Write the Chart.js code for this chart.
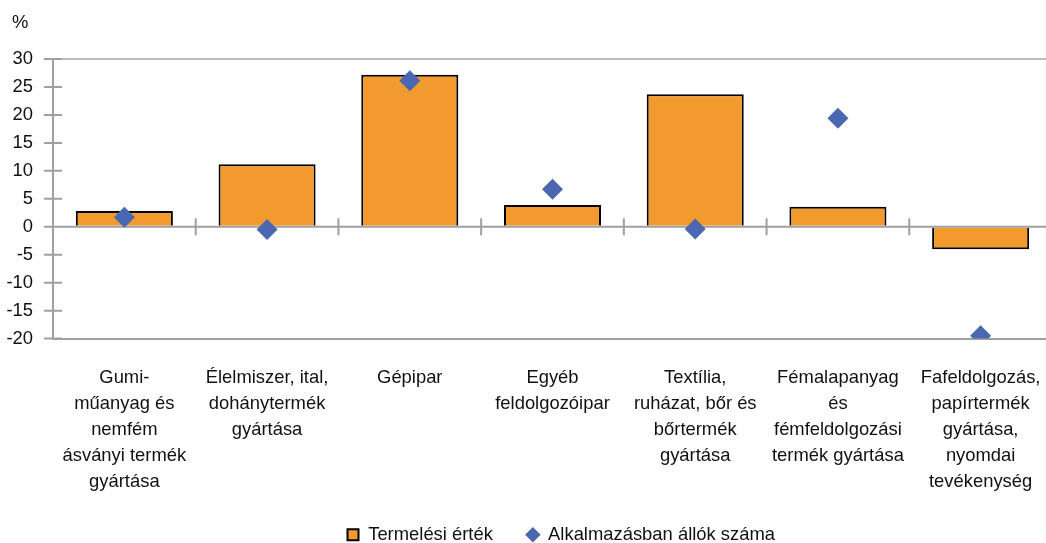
<!DOCTYPE html>
<html>
<head>
<meta charset="utf-8">
<script src="https://cdn.jsdelivr.net/npm/chart.js@4/dist/chart.umd.min.js"></script>
<style>
  html, body { margin: 0; padding: 0; background: #fff; overflow: hidden; }
  #wrap { width: 1046px; height: 543px; overflow: hidden; }
  canvas { display: block; }
</style>
</head>
<body>
<div id="wrap"><canvas id="c" width="1122" height="554"></canvas></div>
<script>
const categories = [
  ["Gumi-", "műanyag és", "nemfém", "ásványi termék", "gyártása"],
  ["Élelmiszer, ital,", "dohánytermék", "gyártása"],
  ["Gépipar"],
  ["Egyéb", "feldolgozóipar"],
  ["Textília,", "ruházat, bőr és", "bőrtermék", "gyártása"],
  ["Fémalapanyag", "és", "fémfeldolgozási", "termék gyártása"],
  ["Fafeldolgozás,", "papírtermék", "gyártása,", "nyomdai", "tevékenység"]
];
const productionValues = [2.8, 11.2, 27.2, 3.9, 23.7, 3.6, -4.0];
const employmentValues = [1.7, -0.5, 26.1, 6.7, -0.4, 19.4, -19.5];
const seriesNames = ["Termelési érték", "Alkalmazásban állók száma"];
const yTicks = { min: -20, max: 30, step: 5 };
const unitLabel = "%";

const ORANGE = "#F39A2E";
const BLUE = "#4A68B2";
const AXIS = "#A0A0A0";
const TEXT = "#111111";
const FONT = "'Liberation Sans', Arial, sans-serif";
const FS = 18.4;

Chart.defaults.font.family = FONT;
Chart.defaults.font.size = FS;
Chart.defaults.color = TEXT;

const axisMarks = {
  id: 'axisMarks',
  afterDatasetDraw(chart, args) {
    if (args.index !== 1) return;
    const { ctx, chartArea, scales: { x, y } } = chart;
    const y0 = y.getPixelForValue(0);
    ctx.save();
    ctx.strokeStyle = AXIS;
    ctx.lineWidth = 2;
    ctx.beginPath();
    ctx.moveTo(chartArea.left, y0);
    ctx.lineTo(chartArea.right, y0);
    for (let i = 1; i < categories.length; i++) {
      const bx = (x.getPixelForValue(i - 1) + x.getPixelForValue(i)) / 2;
      ctx.moveTo(bx, y0 - 8.5);
      ctx.lineTo(bx, y0 + 8.5);
    }
    y.ticks.forEach((t, i) => {
      const py = y.getPixelForTick(i);
      ctx.moveTo(chartArea.left - 9, py);
      ctx.lineTo(chartArea.left + 9, py);
    });
    ctx.stroke();
    ctx.restore();
  },
  afterDraw(chart) {
    const ctx = chart.ctx;
    ctx.save();
    ctx.fillStyle = TEXT;
    ctx.font = FS + "px " + FONT;
    ctx.textAlign = 'left';
    ctx.textBaseline = 'middle';
    ctx.fillText(unitLabel, 12, 23);
    ctx.restore();
  }
};

new Chart(document.getElementById('c'), {
  data: {
    labels: categories,
    datasets: [
      {
        type: 'line',
        label: seriesNames[1],
        data: employmentValues,
        showLine: false,
        borderColor: BLUE,
        backgroundColor: BLUE,
        borderWidth: 0,
        pointStyle: 'rectRot',
        pointRadius: 10.5,
        pointHoverRadius: 10.5,
        pointBackgroundColor: BLUE,
        pointBorderWidth: 0
      },
      {
        type: 'bar',
        label: seriesNames[0],
        data: productionValues,
        backgroundColor: ORANGE,
        borderColor: '#000000',
        borderWidth: 2,
        pointStyle: 'rect',
        barPercentage: 0.68,
        categoryPercentage: 1.0
      }
    ]
  },
  options: {
    responsive: false,
    animation: false,
    layout: { autoPadding: false, padding: { left: 0, right: 0, top: 59, bottom: 0 } },
    plugins: {
      tooltip: { enabled: false },
      title: { display: false },
      legend: {
        position: 'bottom',
        reverse: true,
        labels: {
          usePointStyle: true,
          boxWidth: 12,
          boxHeight: 11,
          padding: 34,
          color: TEXT,
          font: { size: FS }
        }
      }
    },
    scales: {
      x: {
        grid: { display: false },
        border: { display: false },
        ticks: {
          padding: 18,
          maxRotation: 0,
          autoSkip: false,
          color: TEXT,
          font: { size: FS, lineHeight: 26 / FS }
        },
        afterFit(scale) { scale.height = 153; scale.paddingRight = 0; scale.paddingLeft = 0; }
      },
      y: {
        min: yTicks.min,
        max: yTicks.max,
        ticks: { stepSize: yTicks.step, padding: 20, color: TEXT, font: { size: FS } },
        grid: {
          drawTicks: false,
          lineWidth: 2,
          color: (c) => c.tick && c.tick.value === yTicks.max ? '#BDBDBD'
                      : c.tick && c.tick.value === yTicks.min ? AXIS : 'rgba(0,0,0,0)'
        },
        border: { display: true, color: AXIS, width: 2 },
        afterFit(scale) { scale.width = 53; }
      },
      yRight: {
        type: 'linear',
        position: 'right',
        grid: { display: false },
        border: { display: false },
        ticks: { display: false },
        afterFit(scale) { scale.width = 70; }
      }
    }
  },
  plugins: [axisMarks]
});
</script>
</body>
</html>
